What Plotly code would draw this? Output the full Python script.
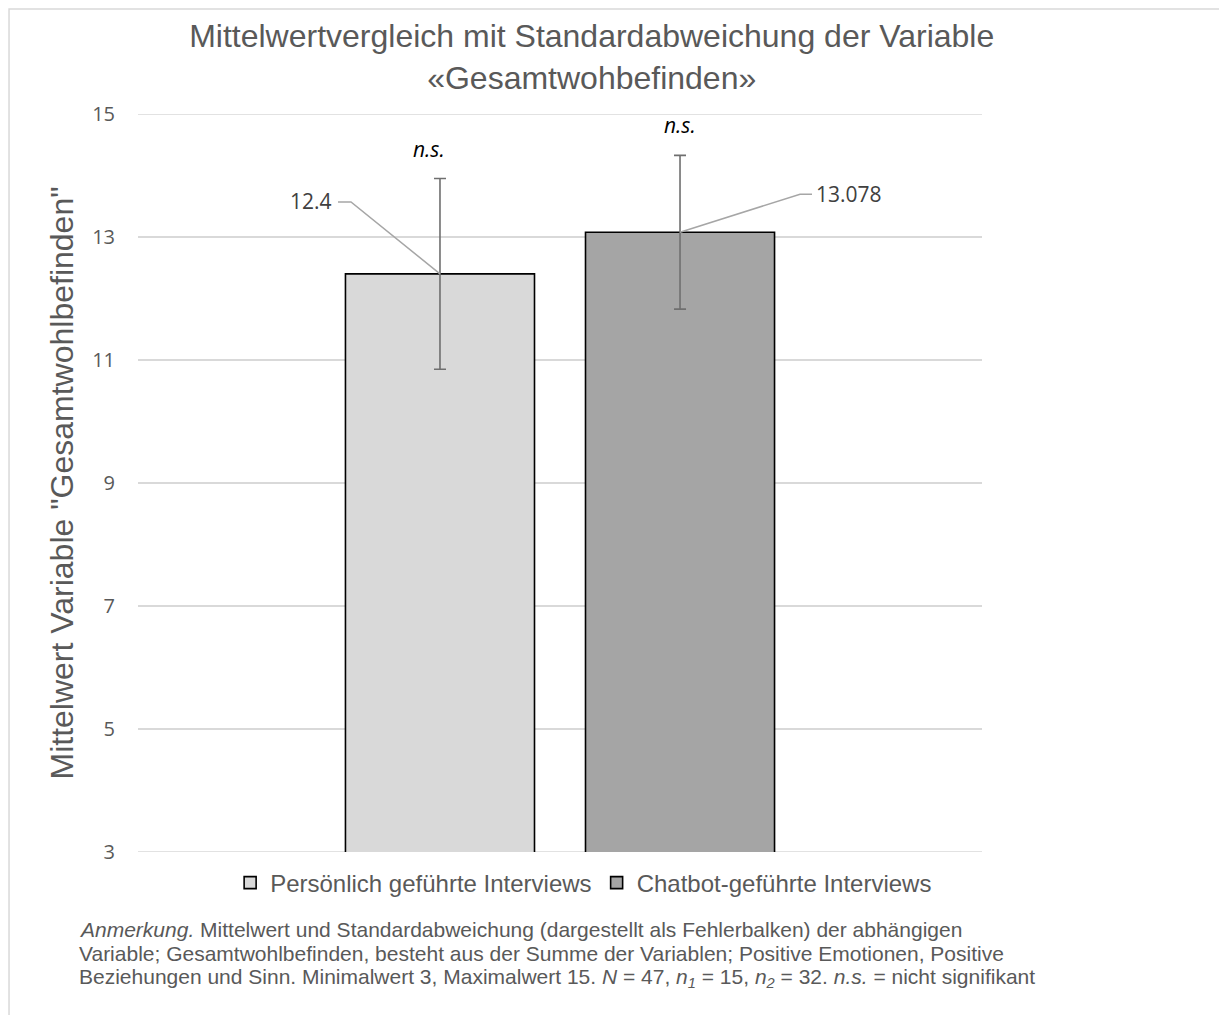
import plotly.graph_objects as go

# data
groups = ["Persönlich geführte Interviews", "Chatbot-geführte Interviews"]
means = [12.4, 13.078]
sds = [1.55, 1.25]
mean_labels = ["12.4", "13.078"]
sig_labels = ["n.s.", "n.s."]
bar_colors = ["#d9d9d9", "#a5a5a5"]
y_ticks = [3, 5, 7, 9, 11, 13, 15]

GREY_TXT = "#595959"
ARIAL = "Liberation Sans, Arial, sans-serif"
LABEL_FONT = "Open Sans, sans-serif"

fig = go.Figure()

# gridlines at the axis ends (plotly skips those on the plot edges)
for yv in (y_ticks[0], y_ticks[-1]):
    fig.add_shape(type="line", xref="paper", yref="y", x0=0, x1=1, y0=yv, y1=yv,
                  line=dict(color="#d9d9d9", width=1.5), layer="below")

for g, m, sd, col in zip(groups, means, sds, bar_colors):
    fig.add_trace(go.Bar(
        x=[g], y=[m], name=g,
        marker=dict(color=col, line=dict(color="black", width=1.6)),
        error_y=dict(type="data", array=[sd], color="#6f6f6f", thickness=1.6, width=6),
    ))

# n.s. labels above the error bars
for g, m, sd, s, dx in zip(groups, means, sds, sig_labels, [-11, 0]):
    fig.add_annotation(x=g, y=m + sd, text=f"<i>{s}</i>", showarrow=False,
                       yshift=30, xshift=dx, font=dict(family=LABEL_FONT, size=21, color="black"))

# value labels with leader lines
fig.add_annotation(x=groups[0], y=means[0], text=mean_labels[0], showarrow=False,
                   xanchor="right", yanchor="middle", xshift=-106, yshift=73,
                   font=dict(family=LABEL_FONT, size=21, color="#404040"))
fig.add_annotation(x=groups[1], y=means[1], text=mean_labels[1], showarrow=False,
                   xanchor="left", yanchor="middle", xshift=134, yshift=38,
                   font=dict(family=LABEL_FONT, size=21, color="#404040"))
fig.add_shape(type="path", xref="x", yref="y", xsizemode="pixel", ysizemode="pixel",
              xanchor=groups[0], yanchor=means[0], path="M-102,72 L-89,72 L0,0",
              line=dict(color="#a6a6a6", width=1.5))
fig.add_shape(type="path", xref="x", yref="y", xsizemode="pixel", ysizemode="pixel",
              xanchor=groups[1], yanchor=means[1], path="M0,0 L120,38 L132,38",
              line=dict(color="#a6a6a6", width=1.5))

# chart frame (top and left edges visible)
fig.add_shape(type="rect", xref="paper", yref="paper", x0=-0.1528, x1=1.5, y0=-0.5, y1=1.1423,
              line=dict(color="#d9d9d9", width=1.5), layer="below")

note_lines = [
    "<i>Anmerkung.</i> Mittelwert und Standardabweichung (dargestellt als Fehlerbalken) der abhängigen",
    "Variable; Gesamtwohlbefinden, besteht aus der Summe der Variablen; Positive Emotionen, Positive",
    "Beziehungen und Sinn. Minimalwert 3, Maximalwert 15. <i>N</i> = 47, <i>n<sub>1</sub></i> = 15, "
    "<i>n<sub>2</sub></i> = 32. <i>n.s.</i> = nicht signifikant",
]
for i, line in enumerate(note_lines):
    fig.add_annotation(xref="paper", yref="paper", x=-0.0687, y=-0.105, xanchor="left", yanchor="middle",
                       xshift=-3, yshift=-24.5 * i, align="left", showarrow=False, text=line,
                       font=dict(family=ARIAL, size=21, color=GREY_TXT))

fig.update_layout(
    width=1211, height=1007,
    margin=dict(l=130, r=237, t=106, b=163),
    paper_bgcolor="white", plot_bgcolor="white",
    barmode="overlay", bargap=0.2125,
    showlegend=True,
    title=dict(text="Mittelwertvergleich mit Standardabweichung der Variable<br>«Gesamtwohbefinden»",
               x=0.482, xref="container", xanchor="center",
               y=0.961, yref="container", yanchor="middle",
               font=dict(family=ARIAL, size=32, color=GREY_TXT)),
    legend=dict(orientation="h", x=0.528, xanchor="center", y=-0.042, yanchor="middle",
                font=dict(family=ARIAL, size=24, color=GREY_TXT), itemwidth=30,
                traceorder="normal"),
    xaxis=dict(showticklabels=False, showgrid=False, zeroline=False, showline=False,
               range=[-1.258, 2.258]),
    yaxis=dict(range=[3, 15], tickvals=y_ticks, showgrid=True, gridcolor="#d9d9d9", gridwidth=1.5,
               zeroline=False, showline=False, ticks="", ticklabelstandoff=22,
               tickfont=dict(family=LABEL_FONT, size=20, color=GREY_TXT),
               title=dict(text='Mittelwert Variable "Gesamtwohlbefinden"', standoff=8,
                          font=dict(family=ARIAL, size=32, color=GREY_TXT))),
)

fig.write_html("out.html")
